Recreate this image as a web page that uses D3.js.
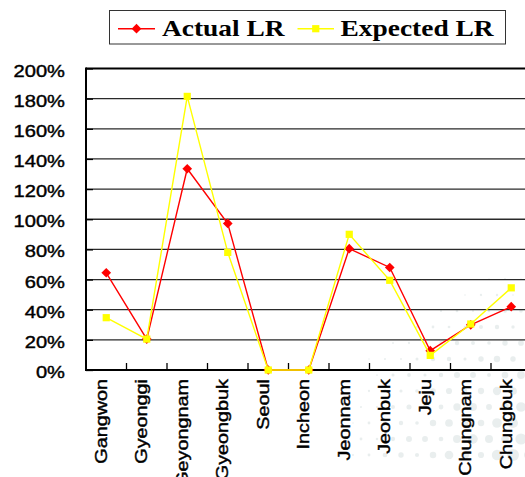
<!DOCTYPE html>
<html>
<head>
<meta charset="utf-8">
<script src="https://cdn.jsdelivr.net/npm/d3@7"></script>
<style>
  html, body { margin: 0; padding: 0; background: #fff; }
  svg { display: block; }
</style>
</head>
<body>
<div id="chart"></div>
<script>
// Loss ratio by province: actual vs expected
const regions = ["Gangwon", "Gyeonggi", "Geyongnam", "Gyeongbuk", "Seoul", "Incheon",
                 "Jeonnam", "Jeonbuk", "Jeju", "Chungnam", "Chungbuk"];
const actualLR   = [0.645, 0.205, 1.335, 0.972, 0.0, 0.0, 0.805, 0.680, 0.128, 0.300, 0.420];
const expectedLR = [0.347, 0.205, 1.815, 0.780, 0.0, 0.0, 0.900, 0.595, 0.097, 0.305, 0.545];
const yTicks = [0, 0.2, 0.4, 0.6, 0.8, 1.0, 1.2, 1.4, 1.6, 1.8, 2.0];

const W = 525, H = 477;
const plot = { left: 86, top: 68.5, bottom: 370, right: 531.5 };

const svg = d3.select("#chart").append("svg")
  .attr("width", W).attr("height", H);

// faint halftone dots in the lower-right background
const deco = svg.append("g").attr("fill", "#dae3e3");
for (let row = 0; row < 16; row++) {
  for (let col = 0; col < 12; col++) {
    const cx = 345 + col * 16 + (row % 2) * 8;
    const cy = 215 + row * 16;
    const d = Math.hypot(W + 20 - cx, H + 10 - cy);
    const r = Math.max(0, 7.5 - d / 32) * (0.55 + 0.45 * Math.abs(Math.sin(row * 1.7 + col * 2.3)));
    if (r > 0.6) deco.append("circle").attr("cx", cx).attr("cy", cy).attr("r", r)
      .attr("opacity", 0.6);
  }
}

const x = d3.scaleBand().domain(regions).range([plot.left, plot.right]);
const y = d3.scaleLinear().domain([0, 2]).range([plot.bottom, plot.top]);
const cx = d => x(d) + x.bandwidth() / 2;

// horizontal gridlines
svg.append("g").selectAll("line").data(yTicks.filter(t => t > 0)).join("line")
  .attr("x1", plot.left).attr("x2", W)
  .attr("y1", d => y(d)).attr("y2", d => y(d))
  .attr("stroke", d => d === 2 ? "#000" : "#2a2a2a")
  .attr("stroke-width", d => d === 2 ? 1.8 : 1.3);

// y axis with inward ticks
const yAxis = d3.axisLeft(y).tickValues(yTicks).tickSize(-7).tickFormat("");
const gy = svg.append("g").attr("transform", `translate(${plot.left},0)`).call(yAxis);
gy.select(".domain").remove();
gy.selectAll(".tick line").attr("stroke", "#000").attr("stroke-width", 1.3);

// x axis: ticks at category boundaries, pointing up
const gx = svg.append("g");
gx.selectAll("line").data(regions.slice(1)).join("line")
  .attr("x1", d => x(d)).attr("x2", d => x(d))
  .attr("y1", plot.bottom).attr("y2", plot.bottom - 7)
  .attr("stroke", "#000").attr("stroke-width", 1.3);

// axis lines
svg.append("line").attr("x1", plot.left).attr("x2", plot.left)
  .attr("y1", plot.top - 1).attr("y2", plot.bottom + 1)
  .attr("stroke", "#000").attr("stroke-width", 2);
svg.append("line").attr("x1", plot.left - 1).attr("x2", W)
  .attr("y1", plot.bottom).attr("y2", plot.bottom)
  .attr("stroke", "#000").attr("stroke-width", 2);

// y tick labels
svg.append("g").selectAll("text").data(yTicks).join("text")
  .attr("transform", d => `translate(65,${y(d) + 8}) scale(1.22,1)`)
  .attr("text-anchor", "end")
  .attr("font-family", "Liberation Sans, Arial, sans-serif")
  .attr("font-size", 16.5)
  .attr("fill", "#000").attr("stroke", "#000").attr("stroke-width", 0.4)
  .text(d3.format(".0%"));

// x category labels, rotated
svg.append("g").selectAll("text").data(regions).join("text")
  .attr("transform", d => `translate(${cx(d) + 0.5},379) rotate(-90) scale(1.2,1)`)
  .attr("text-anchor", "end")
  .attr("font-family", "Liberation Sans, Arial, sans-serif")
  .attr("font-size", 16.5)
  .attr("fill", "#000").attr("stroke", "#000").attr("stroke-width", 0.4)
  .text(d => d);

// series
const series = [
  { name: "Actual LR", values: actualLR, color: "#ff0000", marker: "diamond" },
  { name: "Expected LR", values: expectedLR, color: "#ffff00", marker: "square" }
];
const line = d3.line().x((d, i) => cx(regions[i])).y(d => y(d));
const symbolFor = s => s.marker === "diamond"
  ? d3.symbol(d3.symbolDiamond2, 60)
  : d3.symbol(d3.symbolSquare, 52);

series.forEach(s => {
  svg.append("path").datum(s.values)
    .attr("d", line).attr("fill", "none")
    .attr("stroke", s.color).attr("stroke-width", 1.4);
  svg.append("g").selectAll("path").data(s.values).join("path")
    .attr("transform", (d, i) => `translate(${cx(regions[i])},${y(d)})`)
    .attr("d", symbolFor(s))
    .attr("fill", s.color);
});

// legend
const lg = svg.append("g");
lg.append("rect").attr("x", 109.5).attr("y", 10.5).attr("width", 396).attr("height", 33.5)
  .attr("fill", "#fff").attr("stroke", "#333").attr("stroke-width", 1);
const legendItems = [
  { s: series[0], x0: 118, x1: 155, tx: 162 },
  { s: series[1], x0: 297.5, x1: 334, tx: 340.5 }
];
legendItems.forEach(it => {
  lg.append("line").attr("x1", it.x0).attr("x2", it.x1).attr("y1", 28.7).attr("y2", 28.7)
    .attr("stroke", it.s.color).attr("stroke-width", 1.4);
  lg.append("path").attr("transform", `translate(${(it.x0 + it.x1) / 2},28.7)`)
    .attr("d", symbolFor(it.s)).attr("fill", it.s.color);
  lg.append("text")
    .attr("transform", `translate(${it.tx},35.7) scale(1.22,1)`)
    .attr("font-family", "Liberation Serif, Times New Roman, serif")
    .attr("font-weight", "bold").attr("font-size", 22.5)
    .attr("fill", "#000")
    .text(it.s.name);
});
</script>
</body>
</html>
